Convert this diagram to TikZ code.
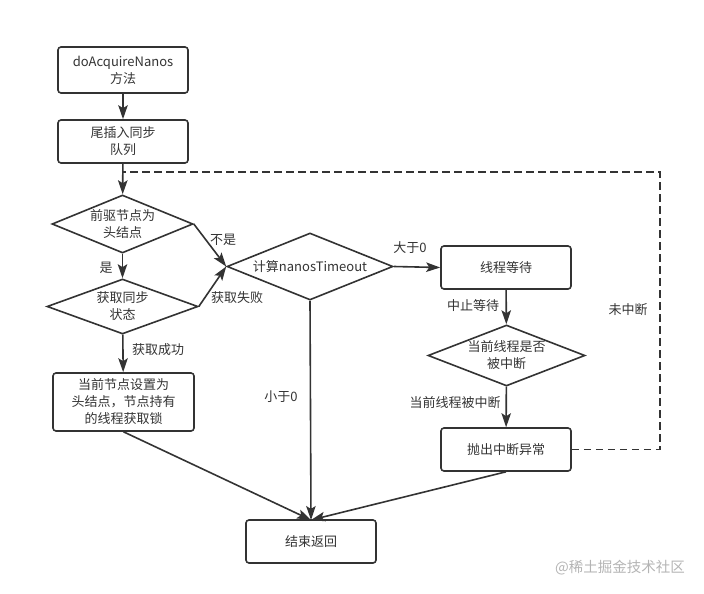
\documentclass[tikz,border=0pt]{standalone}
\usepackage{fontspec}
\setmainfont{Noto Sans CJK SC}
\usetikzlibrary{shapes.geometric,arrows.meta}
\definecolor{ln}{HTML}{333333}
\definecolor{wm}{HTML}{B4B4B4}
\begin{document}
\begin{tikzpicture}[x=1pt,y=-1pt,
  every node/.style={font=\fontsize{13}{17}\selectfont, text=ln},
  box/.style={draw=ln, line width=1.6pt, rounded corners=3pt, align=center, inner sep=0pt},
  dia/.style={draw=ln, line width=1.6pt, diamond, inner sep=0pt},
  dtext/.style={align=center},
  conn/.style={draw=ln, line width=1.6pt, -{Stealth[length=14pt,width=9.5pt,inset=3pt]}},
  dconn/.style={draw=ln, line width=1.6pt, dash pattern=on 7.5pt off 4.5pt},
  lab/.style={inner sep=0pt}]
\useasboundingbox (0,0) rectangle (704,594);
\node[box, minimum width=130pt, minimum height=46pt] (b1) at (123,70) {doAcquireNanos\\方法};
\node[box, minimum width=130pt, minimum height=43pt] (b2) at (123,141.5) {尾插入同步\\队列};
\node[dia, minimum width=141pt, minimum height=58pt] (d1) at (122.5,224) {};
\node[dtext] at (d1.center) {前驱节点为\\头结点};
\node[dia, minimum width=151pt, minimum height=55pt] (d2) at (122.5,306.5) {};
\node[dtext] at (d2.center) {获取同步\\状态};
\node[box, minimum width=141pt, minimum height=58pt] (b3) at (123.5,402) {当前节点设置为\\头结点，节点持有\\的线程获取锁};
\node[dia, minimum width=166pt, minimum height=67pt] (d3) at (310,266.5) {};
\node[dtext] at (d3.center) {计算nanosTimeout};
\node[box, minimum width=130pt, minimum height=43pt] (b4) at (506,267.5) {线程等待};
\node[dia, minimum width=157pt, minimum height=61pt] (d4) at (506.5,355.5) {};
\node[dtext] at (d4.center) {当前线程是否\\被中断};
\node[box, minimum width=130pt, minimum height=43pt] (b5) at (506,449.5) {抛出中断异常};
\node[box, minimum width=130pt, minimum height=43pt] (b6) at (311,541.5) {结束返回};
\coordinate (m) at (311,520);
\coordinate (j) at (123,172);
\coordinate (r1) at (660,449.5);
\coordinate (r2) at (660,172);

\draw[conn] (b1) -- (b2);
\draw[conn] (b2) -- (d1);
\draw[conn] (d1) -- (d2);
\draw[conn] (d2) -- (b3);
\draw[conn] (d1.east) -- (d3.west);
\draw[conn] (d2.east) -- (d3.west);
\draw[conn] (d3.east) -- (b4.west);
\draw[conn] (d3.south) -- (m);
\draw[conn] (b4) -- (d4);
\draw[conn] (d4) -- (b5);
\draw[conn] (b3.south) -- (m);
\draw[conn] (b5.south) -- (m);
\draw[dconn] (b5.east) -- (r1) -- (r2) -- (j);

\node[lab] (l1) at (106,268) {是};
\node[lab] (l2) at (158,350) {获取成功};
\node[lab] (l3) at (223,240) {不是};
\node[lab] (l4) at (237,298) {获取失败};
\node[lab] (l5) at (410,248) {大于0};
\node[lab] (l6) at (281,397) {小于0};
\node[lab] (l7) at (473,306) {中止等待};
\node[lab] (l8) at (455,403) {当前线程被中断};
\node[lab] (l9) at (628,310) {未中断};
\node[lab, text=wm, font=\fontsize{14.5}{17}\selectfont] (wmk) at (620,568) {@稀土掘金技术社区};
\end{tikzpicture}
\end{document}
